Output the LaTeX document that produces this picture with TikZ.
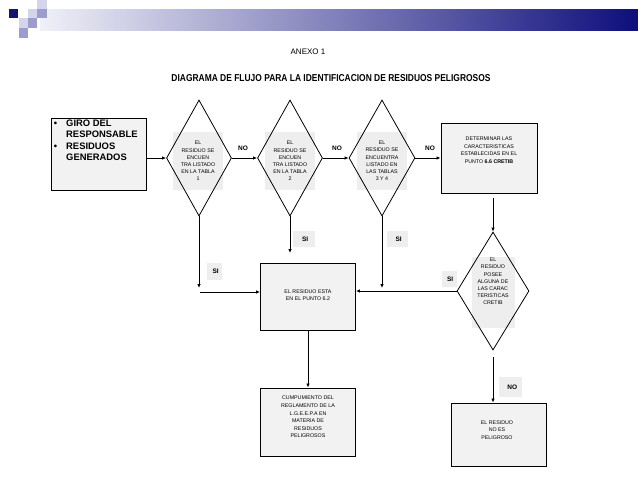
\documentclass[tikz,border=0pt]{standalone}
\usepackage{fontspec}
\setmainfont{Liberation Sans}
\usetikzlibrary{shapes.geometric,arrows.meta}
\definecolor{boxfill}{HTML}{F2F2F2}
\definecolor{lblfill}{HTML}{EEEEEE}
\definecolor{bannerL}{HTML}{F0F0F8}
\definecolor{bannerM}{HTML}{8F8FC8}
\definecolor{bannerR}{HTML}{0E0E7C}
\definecolor{sqdark}{HTML}{141470}
\definecolor{sqlight}{HTML}{D4D4EA}
\definecolor{sqmid}{HTML}{9C9CCE}
\begin{document}
\begin{tikzpicture}[x=1pt,y=-1pt,
  box/.style={draw, line width=0.9pt, fill=boxfill, inner sep=0, align=center},
  dec/.style={draw, line width=0.8pt, diamond, inner sep=0},
  dtxt/.style={fill=lblfill, inner sep=0, align=center, font=\fontsize{5.3}{7.2}\selectfont},
  btxt/.style={align=center, inner sep=0, font=\fontsize{5.3}{7.6}\selectfont},
  lbl/.style={fill=lblfill, font=\bfseries\fontsize{6.5}{7}\selectfont, inner sep=0, anchor=north west},
  nolbl/.style={font=\bfseries\fontsize{6.5}{7}\selectfont, inner sep=0},
  arr/.style={line width=0.8pt, -{Latex[length=4pt,width=3.5pt]}},
  ln/.style={line width=0.8pt}]
\useasboundingbox (0,0) rectangle (638,479);
\fill[white] (0,0) rectangle (638,479);
% banner
\shade[left color=bannerL, middle color=bannerM, right color=bannerR] (40,9) rectangle (638,30);
\fill[sqlight] (28,9) rectangle (37,18);
\fill[sqlight] (37,0) rectangle (47,9);
\fill[sqlight] (19,18) rectangle (28,28);
\fill[sqmid] (37,9) rectangle (47,18);
\fill[sqmid] (28,18) rectangle (37,28);
\fill[sqmid] (19,28) rectangle (28,38);
\fill[sqdark] (9,9) rectangle (18,18);
% titles
\node[inner sep=0, font=\fontsize{8}{9}\selectfont] (anexo) at (308,52) {ANEXO 1};
\node[inner sep=0] (title) at (331,78) {\resizebox{319pt}{7pt}{\bfseries DIAGRAMA DE FLUJO PARA LA IDENTIFICACION DE RESIDUOS PELIGROSOS}};
% start box
\node[box, minimum width=95pt, minimum height=72pt] (giro) at (99,154) {};
\node[inner sep=0, anchor=north west, font=\bfseries\fontsize{9.4}{11.2}\selectfont, align=left] (girotxt) at (52,120)
  {\makebox[14pt][l]{\,\textbullet}GIRO DEL\\\makebox[14pt][l]{}RESPONSABLE\\\makebox[14pt][l]{\,\textbullet}RESIDUOS\\\makebox[14pt][l]{}GENERADOS};
% decision text backgrounds
\node[dtxt, minimum width=50pt, minimum height=58pt] (t1) at (198,161) {EL\\RESIDUO SE\\ENCUEN\\TRA LISTADO\\EN LA TABLA\\1};
\node[dtxt, minimum width=50pt, minimum height=58pt] (t2) at (290,161) {EL\\RESIDUO SE\\ENCUEN\\TRA LISTADO\\EN LA TABLA\\2};
\node[dtxt, minimum width=50pt, minimum height=58pt] (t3) at (382,161) {EL\\RESIDUO SE\\ENCUENTRA\\LISTADO EN\\LAS TABLAS\\3 Y 4};
\node[dtxt, minimum width=43pt, minimum height=71pt] (t4) at (493,292) {EL\\RESIDUO\\POSEE\\ALGUNA DE\\LAS CARAC\\TERISTICAS\\CRETIB\\[14pt]};
% decisions
\node[dec, minimum width=65pt, minimum height=116pt] (d1) at (199,158) {};
\node[dec, minimum width=65pt, minimum height=116pt] (d2) at (290,158) {};
\node[dec, minimum width=66pt, minimum height=116pt] (d3) at (382,158) {};
\node[dec, minimum width=72pt, minimum height=118pt] (d4) at (493,291) {};
% boxes
\node[box, minimum width=96pt, minimum height=70pt] (det) at (489,158) {};
\node[btxt] (dettxt) at (489,150) {DETERMINAR LAS\\CARACTERISTICAS\\ESTABLECIDAS EN EL\\PUNTO \textbf{6.6 CRETIB}};
\node[box, minimum width=95pt, minimum height=67pt] (b62) at (308,297) {};
\node[btxt] (b62txt) at (308,295) {EL RESIDUO ESTA\\EN EL PUNTO 6.2};
\node[box, minimum width=95pt, minimum height=68pt] (cump) at (308,422) {};
\node[btxt] (cumptxt) at (308,417) {CUMPUMIENTO DEL\\REGLAMENTO DE LA\\L.G.E.E.P.A EN\\MATERIA DE\\RESIDUOS\\PELIGROSOS};
\node[box, minimum width=95pt, minimum height=63pt] (nopel) at (498.5,434.5) {};
\node[btxt] (nopeltxt) at (497,430) {EL RESIDUO\\NO ES\\PELIGROSO};
% labels
\node[nolbl] (no1) at (243,148) {NO};
\node[nolbl] (no2) at (337,148) {NO};
\node[nolbl] (no3) at (430,148) {NO};
\node[lbl, minimum width=15pt, minimum height=17pt] (si1) at (207,263) {\hspace{2pt}SI};
\node[lbl, minimum width=22pt, minimum height=16pt] (si2) at (293,231) {\hspace{2pt}SI};
\node[lbl, minimum width=21pt, minimum height=16pt] (si3) at (387,231) {\hspace{2pt}SI};
\node[lbl, minimum width=15pt, minimum height=16pt] (si4) at (442,271) {\hspace{1pt}SI};
\node[lbl, minimum width=23pt, minimum height=20pt] (no4) at (499,377) {\hspace{3pt}NO};
% connector end points
\coordinate (e1) at (199,288);
\coordinate (s1) at (200,292);
\coordinate (e2) at (290,253);
\coordinate (e3) at (382,288);
\coordinate (s4) at (493,198);
\coordinate (s5) at (493,357);
% connectors
\draw[arr] (giro.east |- d1.west) -- (d1.west);
\draw[arr] (d1.east) -- (d2.west);
\draw[arr] (d2.east) -- (d3.west);
\draw[arr] (d3.east) -- (d3.east -| det.west);
\draw[arr] (d1.south) -- (e1);
\draw[arr] (s1) -- (s1 -| b62.west);
\draw[arr] (d2.south) -- (e2);
\draw[arr] (d3.south) -- (e3);
\draw[arr] (s4) -- (d4.north);
\draw[arr] (d4.west) -- (d4.west -| b62.east);
\draw[arr] (b62.south -| cump.north) -- (cump.north);
\draw[arr] (s5) -- (s5 |- nopel.north);
\end{tikzpicture}
\end{document}
